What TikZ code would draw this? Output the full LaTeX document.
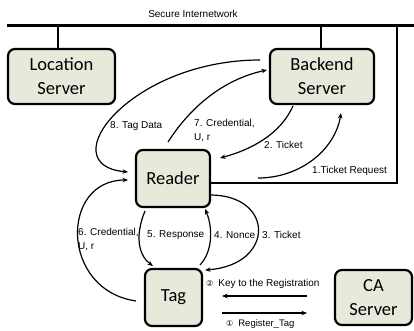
\documentclass[tikz,border=0pt]{standalone}
\usepackage{fontspec}
\setmainfont{Liberation Sans}
\newfontfamily\boxfont{Carlito}
\newfontfamily\symfont{DejaVu Sans}
\usetikzlibrary{arrows.meta}
\definecolor{boxfill}{HTML}{E7E9DA}
\tikzset{
  srv/.style={draw=black, line width=2.2pt, rounded corners=7pt, fill=boxfill,
    align=center, inner sep=0pt, font=\boxfont\fontsize{18.5}{24}\selectfont},
  lbl/.style={font=\fontsize{10}{12.5}\selectfont, inner sep=0pt, anchor=west},
  lbl2/.style={font=\fontsize{10}{14.5}\selectfont, inner sep=0pt, anchor=north west, align=left},
  arr/.style={line width=1.2pt, -{Stealth[length=5.5pt,width=4.5pt]}},
  wire/.style={line width=2.5pt},
}
\begin{document}
\begin{tikzpicture}[x=1pt,y=-1pt]
\useasboundingbox (0,0) rectangle (414,331);
% nodes
\node[srv, minimum width=107pt, minimum height=55pt] (loc) at (61.5,76.5) {Location\\Server};
\node[srv, minimum width=104pt, minimum height=55pt] (back) at (322,76.5) {Backend\\Server};
\node[srv, minimum width=74pt, minimum height=57pt] (reader) at (173,178.5) {Reader};
\node[srv, minimum width=57pt, minimum height=57pt] (tag) at (173.5,297.5) {Tag};
\node[srv, minimum width=77pt, minimum height=55pt] (ca) at (373.5,297.5) {CA\\Server};
% network
\node[font=\fontsize{10}{12}\selectfont, inner sep=0pt] (net) at (193,14) {Secure Internetwork};
\coordinate (busL) at (7,26);
\coordinate (busR) at (414,26);
\coordinate (busC) at (397,26);
\draw[line width=3pt] (busL) -- (busR);
\draw[wire] (58,26) -- (loc.north -| 58,0);
\draw[wire] (321,26) -- (back.north -| 321,0);
\draw[wire] (busC) -- (397,183) -- (reader.east |- 0,183);
% endpoints
\coordinate (e8s) at (260,60);  \coordinate (e8e) at (128,172);
\coordinate (e7s) at (168,142); \coordinate (e7e) at (267,70);
\coordinate (e2s) at (293,106); \coordinate (e2e) at (220,158);
\coordinate (e1s) at (258,178); \coordinate (e1e) at (341,113);
\coordinate (e6s) at (136,301); \coordinate (e6e) at (128,180);
\coordinate (e5s) at (145,211); \coordinate (e5e) at (153,266);
\coordinate (e4s) at (200,265); \coordinate (e4e) at (205,209);
\coordinate (e3s) at (210,195); \coordinate (e3e) at (205,270);
\coordinate (k2s) at (307,296); \coordinate (k2e) at (222,296);
\coordinate (k1s) at (222,313); \coordinate (k1e) at (307,313);
% arrows
\draw[arr] (e8s) .. controls (130,60) and (50,165) .. (e8e);
\draw[arr] (e7s) .. controls (195,100) and (230,78) .. (e7e);
\draw[arr] (e2s) .. controls (280,135) and (250,150) .. (e2e);
\draw[arr] (e1s) .. controls (300,178) and (335,150) .. (e1e);
\draw[arr] (e6s) .. controls (60,290) and (60,180) .. (e6e);
\draw[arr] (e5s) .. controls (135,235) and (138,255) .. (e5e);
\draw[arr] (e4s) .. controls (214,250) and (212,225) .. (e4e);
\draw[arr] (e3s) .. controls (275,195) and (275,265) .. (e3e);
\draw[arr] (k2s) -- (k2e);
\draw[arr] (k1s) -- (k1e);
% labels
\node[lbl] (l8) at (110,126) {8. Tag Data};
\node[lbl2] (l7) at (194,119) {7. Credential,\\U, r};
\node[lbl] (l2) at (264,145) {2. Ticket};
\node[lbl] (l1) at (312,171) {1.Ticket Request};
\node[lbl2] (l6) at (78,228) {6. Credential,\\U, r};
\node[lbl] (l5) at (147,235) {5. Response};
\node[lbl] (l4) at (214,235) {4. Nonce};
\node[lbl] (l3) at (262,235) {3. Ticket};
\node[lbl] (lk2) at (206,284) {{\symfont\fontsize{8}{10}\selectfont ②}\hspace{5pt}Key to the Registration};
\node[lbl, font=\fontsize{9.5}{11}\selectfont] (lk1) at (226,324.5) {{\symfont\fontsize{8}{10}\selectfont ①}\hspace{5pt}Register\_Tag};
\end{tikzpicture}
\end{document}
